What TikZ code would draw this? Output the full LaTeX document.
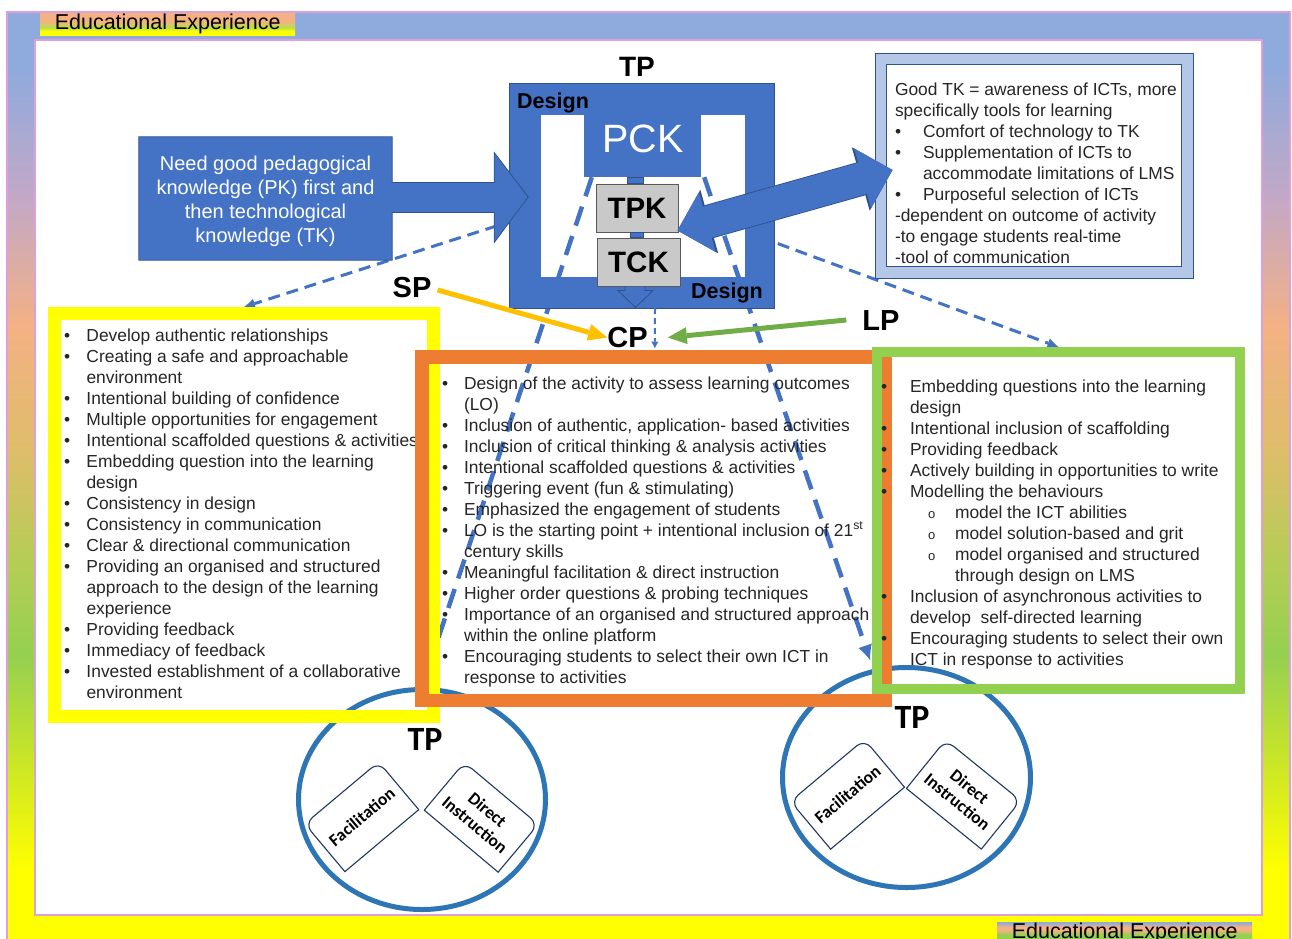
\documentclass[tikz,border=0pt]{standalone}
\usepackage{fontspec}
\setmainfont{Liberation Sans}
\newfontfamily\calib{Carlito}
\usetikzlibrary{shapes.geometric,arrows.meta,calc}

% palette
\definecolor{tpblue}{HTML}{4472C4}
\definecolor{navy}{HTML}{2F528F}
\definecolor{lightblue}{HTML}{B4C7E7}
\definecolor{orangeb}{HTML}{ED7D31}
\definecolor{yellowb}{HTML}{FFFF00}
\definecolor{greenb}{HTML}{92D050}
\definecolor{greenarrow}{HTML}{70AD47}
\definecolor{goldarrow}{HTML}{FFC000}
\definecolor{circblue}{HTML}{2E75B6}
\definecolor{keygray}{HTML}{C9C9C9}
\definecolor{keyline}{HTML}{595959}
\definecolor{diagnavy}{HTML}{1F3864}
\definecolor{pinkline}{HTML}{DDA0DD}
\definecolor{txtc}{HTML}{262626}
% frame gradient stops
\definecolor{fb}{HTML}{8FAADC}
\definecolor{fp}{HTML}{C3A8C6}
\definecolor{fs}{HTML}{F4B183}
\definecolor{fo}{HTML}{DEBD6A}
\definecolor{fgy}{HTML}{B5CD55}
\definecolor{fg}{HTML}{95D050}
\definecolor{fyg}{HTML}{C8E528}
\definecolor{fy}{HTML}{FFFF00}
\definecolor{lgy}{HTML}{B9DF45}

\pgfdeclareverticalshading{eduframe}{100bp}{color(0bp)=(fy); color(25bp)=(fy); color(29bp)=(fy); color(35bp)=(fyg); color(40.5bp)=(fg); color(45.5bp)=(fgy); color(51.5bp)=(fo); color(58bp)=(fs); color(65bp)=(fp); color(72bp)=(fb); color(100bp)=(fb)}
\pgfdeclareverticalshading{labeltop}{100bp}{color(0bp)=(fy); color(25bp)=(fy); color(34bp)=(fy); color(42bp)=(lgy); color(57bp)=(fs); color(100bp)=(fs)}
\pgfdeclareverticalshading{labelbottom}{100bp}{color(0bp)=(fg); color(47bp)=(fg); color(57bp)=(fs); color(64bp)=(fs); color(74bp)=(fb); color(100bp)=(fb)}

\pgfdeclarelayer{bg}
\pgfdeclarelayer{circles}
\pgfdeclarelayer{links}
\pgfsetlayers{bg,circles,links,main}

% list helpers
\newcommand{\bp}[1]{\makebox[#1][l]{\textbullet}}
\newcommand{\subo}{\hspace*{47pt}\makebox[27pt][l]{\fontsize{13}{21}\selectfont o}}

\tikzset{
  body/.style={inner sep=0pt, outer sep=0pt, align=left, text=txtc, font=\fontsize{17.4}{21}\selectfont, anchor=north west},
  tag/.style={inner sep=0pt, text=black, font=\bfseries\fontsize{29}{32}\selectfont},
  designtag/.style={inner sep=0pt, text=black, font=\bfseries\fontsize{21.5}{24}\selectfont},
  keybox/.style={draw=keyline, fill=keygray, line width=1pt, inner sep=0pt, text=black, font=\bfseries\fontsize{29.5}{32}\selectfont},
  circ/.style={ellipse, draw=circblue, line width=5pt, inner sep=0pt},
  modebox/.style={inner sep=0pt, minimum width=96pt, minimum height=62pt, align=center, text=black, font=\calib\bfseries\fontsize{17.5}{19.5}\selectfont},
  modeline/.style={draw=diagnavy, line width=1.1pt, line cap=round, line join=round},
  circtag/.style={inner sep=0pt, text=black, font=\calib\bfseries\fontsize{34}{36}\selectfont},
  linkdash/.style={draw=tpblue, line width=3pt, dash pattern=on 12pt off 7pt, -{Latex[length=11pt,width=10pt,line width=0pt]}},
  bigdash/.style={draw=tpblue, line width=4.5pt, dash pattern=on 20pt off 11pt, -{Latex[length=15pt,width=14pt,line width=0pt]}},
  labelbar/.style={inner sep=0pt, minimum width=255pt, minimum height=22pt, anchor=north west, text=black, font=\fontsize{21.5}{24}\selectfont},
  blockfill/.style={fill=tpblue, draw=navy, line width=0.8pt}
}

\begin{document}
\begin{tikzpicture}[x=1pt,y=-1pt]
\useasboundingbox (0,0) rectangle (1292,938);

% ---------- outer gradient frame and the two title bars ----------
\begin{pgfonlayer}{bg}
\begin{scope}
\clip (0,0) rectangle (1292,938);
\fill[white] (0,0) rectangle (1292,938);
\shade[shading=eduframe] (7,12) rectangle (1290,945);
\fill[white] (35,40) rectangle (1262,915);
\draw[pinkline, line width=1.8pt] (7,12) rectangle (1290,945);
\draw[pinkline, line width=1.8pt] (35,40) rectangle (1262,915);
\node[labelbar, shade, shading=labeltop] (toplabel) at (40,13) {Educational Experience};
\node[labelbar, shade, shading=labelbottom] (bottomlabel) at (997,922) {Educational Experience};
\end{scope}
\end{pgfonlayer}

% ---------- teaching presence circles ----------
\begin{pgfonlayer}{circles}
\node[circ, minimum width=247pt, minimum height=220pt] (lcirc) at (422,799.5) {};
\node[modebox, rotate=40] (lfac) at (361.75,816.75) {Facilitation};
\draw[modeline, rounded corners=10pt] (lfac.south west) -- (lfac.north west) -- (lfac.north east) -- (lfac.south east);
\draw[modeline] (lfac.south east) -- (lfac.south west);
\node[modebox, rotate=-40] (ldir) at (481.25,817.25) {Direct\\Instruction};
\draw[modeline, rounded corners=10pt] (ldir.south west) -- (ldir.north west) -- (ldir.north east) -- (ldir.south east);
\draw[modeline] (ldir.south east) -- (ldir.south west);
\node[circtag] (ltp) at (425,739) {TP};

\node[circ, minimum width=248pt, minimum height=220pt] (rcirc) at (906.5,777.5) {};
\node[modebox, rotate=40] (rfac) at (847.5,794.25) {Facilitation};
\draw[modeline, rounded corners=10pt] (rfac.south west) -- (rfac.north west) -- (rfac.north east) -- (rfac.south east);
\draw[modeline] (rfac.south east) -- (rfac.south west);
\node[modebox, rotate=-39] (rdir) at (963.5,794.5) {Direct\\Instruction};
\draw[modeline, rounded corners=10pt] (rdir.south west) -- (rdir.north west) -- (rdir.north east) -- (rdir.south east);
\draw[modeline] (rdir.south east) -- (rdir.south west);
\node[circtag] (rtp) at (912,717) {TP};
\end{pgfonlayer}

% ---------- TP design frame with PCK / TPK / TCK ----------
\node[minimum width=264pt, minimum height=224pt, inner sep=0pt] (tpbox) at (642,196) {};
\fill[tpblue, even odd rule] (tpbox.north west) rectangle (tpbox.south east)
  ($(tpbox.north west)+(31,31)$) rectangle ($(tpbox.south east)+(-29,-31)$);
\draw[navy, line width=0.8pt] (tpbox.north west) rectangle (tpbox.south east);
\node[tag, font=\bfseries\fontsize{28}{30}\selectfont] (tptop) at (637,67) {TP};
\node[designtag, anchor=base west] (designtop) at (517,108) {Design};
\node[designtag, anchor=base east] (designbottom) at (763,298) {Design};

\node[fill=tpblue, minimum width=117pt, minimum height=62pt, inner sep=0pt] (pck) at (642.5,146) {};
\node[text=white, inner sep=0pt, font=\fontsize{39.5}{42}\selectfont] (pcktext) at (643,139) {PCK};
\node[keybox, minimum width=82pt, minimum height=48pt] (tpk) at (637,208) {TPK};
\node[keybox, minimum width=83pt, minimum height=48pt] (tck) at (638.5,262) {TCK};
\filldraw[blockfill] ($(tpk.north)+(-10,0)$) rectangle ($(tpk.north |- pck.south)+(6,0)$);
\filldraw[blockfill] ($(tpk.south)+(-7,0)$) rectangle ($(tck.north)+(4.5,0)$);
\filldraw[blockfill] ($(tck.south)+(-13.5,0)$) -- ($(tck.south)+(-13.5,4)$) -- ($(tck.south)+(-20.5,4)$)
  -- ($(tck.south)+(-3,21)$) -- ($(tck.south)+(14.5,4)$) -- ($(tck.south)+(6.5,4)$) -- ($(tck.south)+(6.5,0)$);

% ---------- technological knowledge note ----------
\node[fill=lightblue, draw=navy, line width=1pt, minimum width=318pt, minimum height=225pt, inner sep=0pt] (tkbox) at (1034,165.5) {};
\filldraw[fill=white, draw=navy, line width=1pt] ($(tkbox.north west)+(12,12)$) rectangle ($(tkbox.south east)+(-12,-12)$);
\node[body] (tktext) at (895,80.3) {\strut Good TK = awareness of ICTs, more\\
specifically tools for learning\\
\bp{28pt}Comfort of technology to TK\\
\bp{28pt}Supplementation of ICTs to\\
\hspace*{28pt}accommodate limitations of LMS\\
\bp{28pt}Purposeful selection of ICTs\\
-dependent on outcome of activity\\
-to engage students real-time\\
-tool of communication};

% ---------- pedagogical knowledge callout arrow ----------
\node[minimum width=253pt, minimum height=123pt, inner sep=0pt] (pk) at (265.5,198.5) {};
\filldraw[blockfill] (pk.north west) -- (pk.north east) -- ($(pk.east)+(0,-16)$) -- ($(pk.east)+(102,-16)$)
  -- ($(pk.east)+(102,-46)$) -- ($(pk.east)+(136,-1.5)$) -- ($(pk.east)+(102,44)$) -- ($(pk.east)+(102,14)$)
  -- ($(pk.east)+(0,14)$) -- (pk.south east) -- (pk.south west) -- cycle;
\node[inner sep=0pt, text=white, align=center, font=\fontsize{20}{24}\selectfont] (pktext) at ($(pk.center)+(0,3)$)
  {Need good pedagogical\\knowledge (PK) first and\\then technological\\knowledge (TK)};

% ---------- double arrow between TPK and the TK note ----------
\coordinate (dblL) at ($(tpk.south east)+(-1,-2)$);
\coordinate (dblR) at ($(tkbox.west)+(18,4.5)$);
\draw[navy, line width=34pt, {Triangle[length=33pt,width=66pt,line width=0pt]}-{Triangle[length=33pt,width=66pt,line width=0pt]}] (dblL) -- (dblR);
\draw[tpblue, line width=32pt, {Triangle[length=31pt,width=62pt,line width=0pt]}-{Triangle[length=31pt,width=62pt,line width=0pt]}] (dblL) -- (dblR);
\draw[tpblue, line width=32pt, shorten <=25pt, shorten >=25pt] (dblL) -- (dblR);

% ---------- presences feeding CP ----------
\node[tag] (sp) at (412,288) {SP};
\node[tag] (cp) at (627.5,337.5) {CP};
\node[tag] (lp) at (881,321) {LP};
\draw[goldarrow, line width=5pt, -{Triangle[length=19pt,width=17pt,line width=0pt]}] ($(sp.east)+(6,2)$) -- (cp.west);
\draw[greenarrow, line width=5pt, -{Triangle[length=19pt,width=17pt,line width=0pt]}] ($(lp.west)+(-16,-1)$) -- ($(cp.east)+(20,0)$);
\coordinate (cpdash) at ($(cp.east)+(7,11)$);
\draw[tpblue, line width=2pt, dash pattern=on 6pt off 4pt, -{Latex[length=7pt,width=7pt,line width=0pt]}] ($(tpbox.south)+(13,0)$) -- (cpdash);

% ---------- social presence list ----------
\node[draw=yellowb, line width=13pt, minimum width=379pt, minimum height=403pt, inner sep=0pt] (ybox) at (244,515) {};
\node[body] (ytext) at (64,326.3) {\strut\bp{22.5pt}Develop authentic relationships\\
\bp{22.5pt}Creating a safe and approachable\\
\hspace*{22.5pt}environment\\
\bp{22.5pt}Intentional building of confidence\\
\bp{22.5pt}Multiple opportunities for engagement\\
\bp{22.5pt}Intentional scaffolded questions \& activities\\
\bp{22.5pt}Embedding question into the learning\\
\hspace*{22.5pt}design\\
\bp{22.5pt}Consistency in design\\
\bp{22.5pt}Consistency in communication\\
\bp{22.5pt}Clear \& directional communication\\
\bp{22.5pt}Providing an organised and structured\\
\hspace*{22.5pt}approach to the design of the learning\\
\hspace*{22.5pt}experience\\
\bp{22.5pt}Providing feedback\\
\bp{22.5pt}Immediacy of feedback\\
\bp{22.5pt}Invested establishment of a collaborative\\
\hspace*{22.5pt}environment};

% ---------- cognitive presence list ----------
\node[draw=orangeb, line width=13.5pt, minimum width=463.5pt, minimum height=343.5pt, inner sep=0pt] (obox) at (653.5,528.5) {};
\node[body] (otext) at (442,374.3) {\strut\bp{22pt}Design of the activity to assess learning outcomes\\
\hspace*{22pt}(LO)\\
\bp{22pt}Inclusion of authentic, application- based activities\\
\bp{22pt}Inclusion of critical thinking \& analysis activities\\
\bp{22pt}Intentional scaffolded questions \& activities\\
\bp{22pt}Triggering event (fun \& stimulating)\\
\bp{22pt}Emphasized the engagement of students\\
\bp{22pt}LO is the starting point + intentional inclusion of 21\textsuperscript{st}\\
\hspace*{22pt}century skills\\
\bp{22pt}Meaningful facilitation \& direct instruction\\
\bp{22pt}Higher order questions \& probing techniques\\
\bp{22pt}Importance of an organised and structured approach\\
\hspace*{22pt}within the online platform\\
\bp{22pt}Encouraging students to select their own ICT in\\
\hspace*{22pt}response to activities};

% ---------- learning presence list ----------
\node[draw=greenb, line width=10pt, minimum width=363pt, minimum height=337pt, inner sep=0pt] (gbox) at (1058.5,520.5) {};
\node[body] (gtext) at (881,377.3) {\strut\bp{29pt}Embedding questions into the learning\\
\hspace*{29pt}design\\
\bp{29pt}Intentional inclusion of scaffolding\\
\bp{29pt}Providing feedback\\
\bp{29pt}Actively building in opportunities to write\\
\bp{29pt}Modelling the behaviours\\
\subo model the ICT abilities\\
\subo model solution-based and grit\\
\subo model organised and structured\\
\hspace*{74pt}through design on LMS\\
\bp{29pt}Inclusion of asynchronous activities to\\
\hspace*{29pt}develop\ \ self-directed learning\\
\bp{29pt}Encouraging students to select their own\\
\hspace*{29pt}ICT in response to activities};

% ---------- dashed links (beneath the frames) ----------
\begin{pgfonlayer}{links}
\coordinate (pkdash) at (515,220);
\draw[linkdash] (pkdash) -- (ybox.north);
\coordinate (tkdash) at (760,237);
\draw[linkdash] (tkdash) -- (gbox.north);
\draw[bigdash] ($(pck.south west)+(8,0)$) -- (lcirc.north);
\coordinate (rcircend) at (870,660);
\draw[bigdash] ($(pck.south east)+(3,0)$) -- (rcircend);
\end{pgfonlayer}
\end{tikzpicture}
\end{document}
